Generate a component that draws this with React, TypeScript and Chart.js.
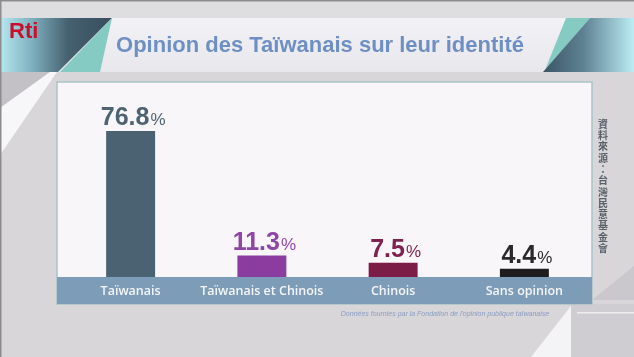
import React, { useEffect, useRef } from "react";
import { Chart, registerables } from "chart.js";

Chart.register(...registerables);

const categories = ["Taïwanais", "Taïwanais et Chinois", "Chinois", "Sans opinion"];
const values = [76.8, 11.3, 7.5, 4.4];
const barColors = ["#4b6273", "#8b3d9f", "#7c1d48", "#1d1d20"];
const labelColors = ["#4e6371", "#8f47a7", "#7e2350", "#2a2a2d"];
const titleText = "Opinion des Taïwanais sur leur identité";
const sourceText = "資料來源：台灣民意基金會";
const footnoteText = "Données fournies par la Fondation de l'opinion publique taïwanaise";
const logoText = "Rti";

function poly(ctx: CanvasRenderingContext2D, pts: number[][], fill: string | CanvasGradient) {
  ctx.beginPath();
  ctx.moveTo(pts[0][0], pts[0][1]);
  for (let i = 1; i < pts.length; i++) ctx.lineTo(pts[i][0], pts[i][1]);
  ctx.closePath();
  ctx.fillStyle = fill;
  ctx.fill();
}

const decorPlugin = {
  id: "decor",
  beforeDraw(chart: any) {
    const ctx: CanvasRenderingContext2D = chart.ctx;
    const W = chart.width;
    const H = chart.height;
    ctx.save();
    ctx.fillStyle = "#d8d6d9";
    ctx.fillRect(0, 0, W, H);
    ctx.fillStyle = "#dedde0";
    ctx.fillRect(0, 0, W, 18);
    // banner
    const bg = ctx.createLinearGradient(0, 18, 0, 72);
    bg.addColorStop(0, "#f2f1f5");
    bg.addColorStop(1, "#e8e7ec");
    ctx.fillStyle = bg;
    ctx.fillRect(0, 18, W, 54);
    // left decoration
    const lg = ctx.createLinearGradient(0, 0, 105, 0);
    lg.addColorStop(0, "#b6e8f0");
    lg.addColorStop(0.3, "#7fb1c0");
    lg.addColorStop(0.65, "#45606f");
    lg.addColorStop(1, "#3a5161");
    poly(ctx, [[0, 18], [112, 18], [58, 72], [0, 72]], lg);
    poly(ctx, [[112, 18], [100, 72], [60, 72]], "#86cbc3");
    // right decoration
    const rg = ctx.createLinearGradient(543, 0, W, 0);
    rg.addColorStop(0, "#3b5464");
    rg.addColorStop(0.45, "#5f8394");
    rg.addColorStop(1, "#bcedf4");
    poly(ctx, [[566, 18], [590, 18], [545, 70]], "#86cbc3");
    poly(ctx, [[590, 18], [W, 18], [W, 72], [543, 72]], rg);
    // lower-left wedges
    poly(ctx, [[0, 72], [50, 72], [0, 108]], "#c3c1c5");
    poly(ctx, [[50, 72], [57, 72], [0, 155], [0, 108]], "#f7f6f9");
    // lower-right shapes
    ctx.fillStyle = "#cfcdd1";
    ctx.fillRect(571, 304, W - 571, H - 304);
    poly(ctx, [[571, 306], [571, H], [531, H]], "#f4f3f6");
    poly(ctx, [[592, 300], [W, 266], [W, 300]], "#cac8cc");
    ctx.fillStyle = "#eeeeef";
    ctx.fillRect(577, 312, W - 577, 1.5);
    // frame lines
    ctx.fillStyle = "#8c8c8e";
    ctx.fillRect(0, 0, W, 1.5);
    ctx.fillRect(0, 0, 1.5, H);
    // panel
    ctx.fillStyle = "#f9f6fa";
    ctx.fillRect(57, 82, 535, 222);
    ctx.strokeStyle = "#a9c3c6";
    ctx.lineWidth = 1.5;
    ctx.strokeRect(57, 82, 535, 222);
    ctx.fillStyle = "#7c9cb8";
    ctx.fillRect(57, 277, 535, 27);
    ctx.restore();
  },
  afterDatasetsDraw(chart: any) {
    const ctx: CanvasRenderingContext2D = chart.ctx;
    const meta = chart.getDatasetMeta(0);
    ctx.save();
    ctx.textBaseline = "alphabetic";
    ctx.textAlign = "left";
    meta.data.forEach((bar: any, i: number) => {
      const num = values[i].toFixed(1);
      ctx.font = "bold 25px 'Liberation Sans', Arial, sans-serif";
      const nw = ctx.measureText(num).width;
      ctx.font = "17px 'Liberation Sans', Arial, sans-serif";
      const pw = ctx.measureText("%").width;
      const x0 = bar.x - (nw + pw) / 2 + 2;
      const y = bar.y - 6;
      ctx.fillStyle = labelColors[i];
      ctx.font = "bold 25px 'Liberation Sans', Arial, sans-serif";
      ctx.fillText(num, x0, y);
      ctx.font = "17px 'Liberation Sans', Arial, sans-serif";
      ctx.fillText("%", x0 + nw + 1, y);
    });
    ctx.restore();
  },
  afterDraw(chart: any) {
    const ctx: CanvasRenderingContext2D = chart.ctx;
    ctx.save();
    // logo
    ctx.fillStyle = "#c8102e";
    ctx.font = "bold 22px 'Liberation Sans Narrow', 'Liberation Sans', sans-serif";
    ctx.textAlign = "left";
    ctx.textBaseline = "alphabetic";
    ctx.fillText(logoText, 9, 38);
    // title
    ctx.fillStyle = "#6e8fc3";
    ctx.font = "bold 22px 'Liberation Sans', Arial, sans-serif";
    ctx.textAlign = "center";
    ctx.textBaseline = "middle";
    ctx.fillText(titleText, 320, 46);
    // vertical source
    ctx.fillStyle = "#596069";
    ctx.font = "bold 10px 'Noto Sans CJK TC', sans-serif";
    const chars = Array.from(sourceText);
    chars.forEach((c, i) => {
      ctx.fillText(c, 603, 124 + i * 11.3);
    });
    // footnote
    ctx.fillStyle = "#8b9dc3";
    ctx.font = "italic 7px 'Liberation Sans', Arial, sans-serif";
    ctx.fillText(footnoteText, 445, 314);
    ctx.restore();
  },
};

export default function App() {
  const ref = useRef<HTMLCanvasElement | null>(null);
  useEffect(() => {
    document.body.style.margin = "0";
    const canvas = ref.current;
    if (!canvas) return;
    const chart = new Chart(canvas, {
      type: "bar",
      data: {
        labels: categories,
        datasets: [
          {
            data: values,
            backgroundColor: barColors,
            borderWidth: 0,
            barPercentage: 0.373,
            categoryPercentage: 1,
          },
        ],
      },
      options: {
        animation: false,
        responsive: false,
        devicePixelRatio: 1,
        layout: { padding: { top: 87, bottom: 52, left: 65, right: 44 } },
        plugins: {
          legend: { display: false },
          tooltip: { enabled: false },
          title: { display: false },
        },
        scales: {
          x: {
            grid: { display: false, drawTicks: false },
            border: { display: false },
            ticks: {
              color: "#f5f5f8",
              font: { family: "'Open Sans', sans-serif", size: 12.5, weight: "600" },
              padding: 6.5,
              maxRotation: 0,
              autoSkip: false,
            },
          },
          y: {
            display: false,
            min: 0,
            max: 100,
          },
        },
      },
      plugins: [decorPlugin],
    });
    return () => chart.destroy();
  }, []);
  return (
    <div style={{ width: 634, height: 357 }}>
      <canvas ref={ref} width={634} height={357} />
    </div>
  );
}
